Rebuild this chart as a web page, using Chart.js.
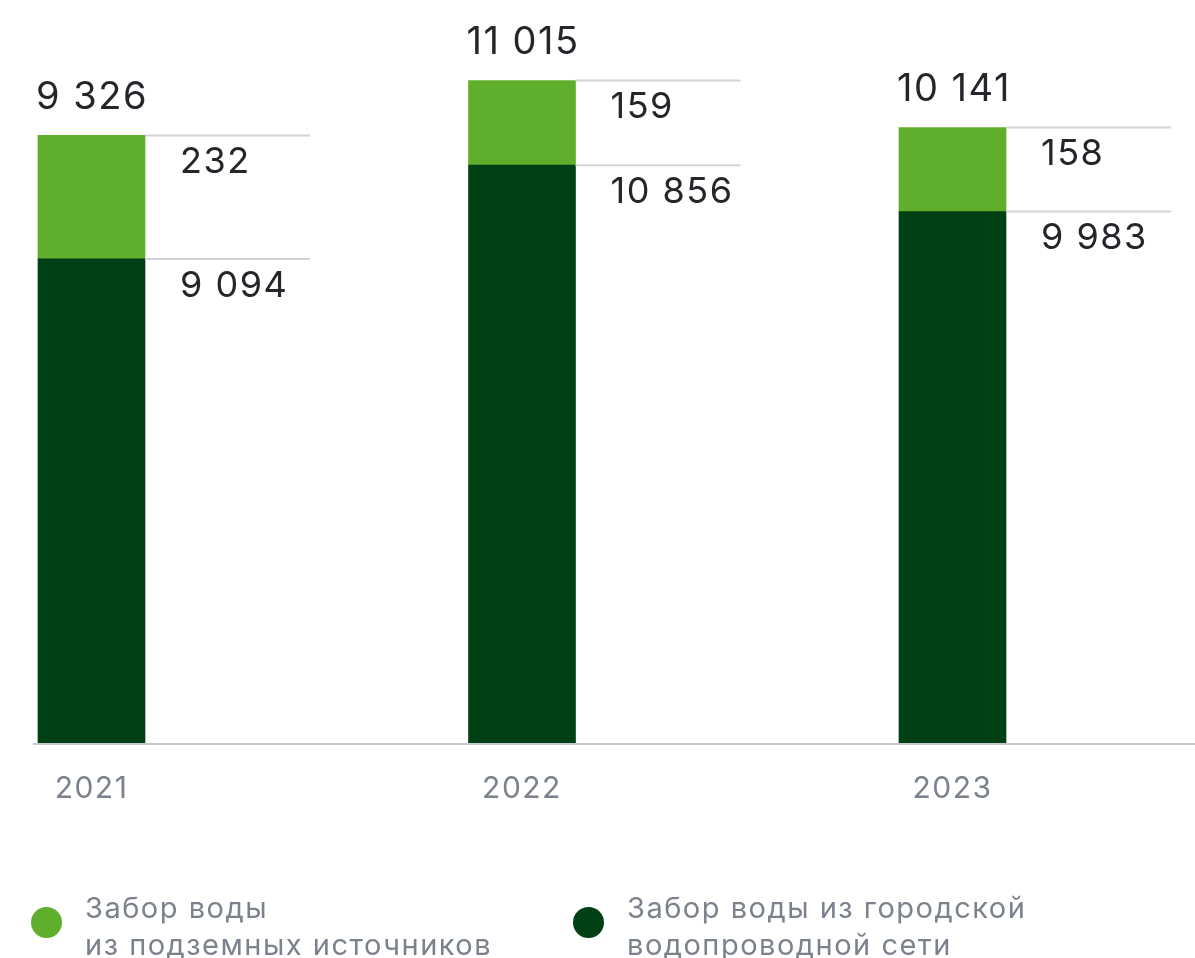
<!DOCTYPE html>
<html>
<head>
<meta charset="utf-8">
<script src="https://cdn.jsdelivr.net/npm/chart.js@4"></script>
<style>
  body { margin: 0; background: #fff; font-family: Inter, "Noto Sans", sans-serif; }
  #wrap { position: relative; width: 1195px; height: 958px; overflow: hidden; }
  .legend-item { position: absolute; top: 889px; color: #7b828d; font-size: 29px; line-height: 37px; letter-spacing: 1.5px; }
  .legend-item .dot { position: absolute; left: -54px; top: 18px; width: 31px; height: 31px; border-radius: 50%; }
</style>
</head>
<body>
<div id="wrap">
  <canvas id="water-chart"></canvas>
  <div class="legend-item" style="left:85px"><span class="dot" style="background:#5faf2d"></span>Забор воды<br>из подземных источников</div>
  <div class="legend-item" style="left:627px"><span class="dot" style="background:#013f15"></span>Забор воды из городской<br>водопроводной сети</div>
</div>
<script>
// Years and water intake values, thousand m3
const years = ['2021', '2022', '2023'];
const cityNetwork = [9094, 10856, 9983];
const groundSources = [232, 159, 158];

// the original picture draws the small ground-water segment 10x taller
const GROUND_SCALE = 10;

const darkGreen = '#013f15';
const lightGreen = '#5faf2d';

function fmt(v) {
    return String(v).replace(/\B(?=(\d{3})+(?!\d))/g, ' ');
}

// wider text, closer to the original typeface
const spacing = {
    id: 'spacing',
    beforeDraw(chart) {
        chart.ctx.letterSpacing = '1.5px';
    }
};

// Lines and value labels next to each bar
const barLabels = {
    id: 'barLabels',
    afterDatasetsDraw(chart) {
        const ctx = chart.ctx;
        const darkMeta = chart.getDatasetMeta(0);
        const lightMeta = chart.getDatasetMeta(1);
        ctx.save();
        ctx.letterSpacing = '1.5px';
        darkMeta.data.forEach(function(bar, i) {
            const top = lightMeta.data[i];
            const left = bar.x - bar.width / 2;
            const right = bar.x + bar.width / 2;

            ctx.strokeStyle = '#d0d4da';
            ctx.lineWidth = 2;
            [bar.y, top.y].forEach(function(y) {
                ctx.beginPath();
                ctx.moveTo(right, y);
                ctx.lineTo(right + 165, y);
                ctx.stroke();
            });

            ctx.fillStyle = '#25262b';
            ctx.textBaseline = 'middle';
            ctx.textAlign = 'left';
            ctx.font = '36px Inter';
            ctx.fillText(fmt(groundSources[i]), right + 35, top.y + 27);
            ctx.fillText(fmt(cityNetwork[i]), right + 35, bar.y + 27);

            ctx.font = '38px Inter';
            ctx.fillText(fmt(cityNetwork[i] + groundSources[i]), left - 2, top.y - 38);
        });

        // baseline
        const y0 = chart.scales.y.getPixelForValue(0);
        ctx.strokeStyle = '#c5c9d0';
        ctx.lineWidth = 2;
        ctx.beginPath();
        ctx.moveTo(33, y0 + 1);
        ctx.lineTo(chart.width, y0 + 1);
        ctx.stroke();
        ctx.restore();
    }
};

const ctx = document.getElementById('water-chart').getContext('2d');
const waterChart = new Chart(ctx, {
    type: 'bar',
    data: {
        labels: years,
        datasets: [{
            label: 'Забор воды из городской водопроводной сети',
            data: cityNetwork,
            backgroundColor: darkGreen,
            barThickness: 107,
            clip: false
        }, {
            label: 'Забор воды из подземных источников',
            data: groundSources.map(v => v * GROUND_SCALE),
            backgroundColor: lightGreen,
            barThickness: 107,
            clip: false
        }]
    },
    options: {
        responsive: true,
        maintainAspectRatio: false,
        animation: false,
        layout: {
            padding: { left: 91.5, right: 242.5, top: 51, bottom: 145 }
        },
        plugins: {
            legend: { display: false },
            tooltip: { enabled: false }
        },
        scales: {
            x: {
                stacked: true,
                offset: false,
                grid: { display: false, drawTicks: false },
                border: { display: false },
                ticks: {
                    color: '#7b828d',
                    font: { family: 'Inter', size: 30 },
                    padding: 28
                },
                afterFit: function(scale) { scale.height = 70; }
            },
            y: {
                stacked: true,
                display: false,
                min: 0,
                max: 13000
            }
        }
    },
    plugins: [spacing, barLabels]
});
</script>
</body>
</html>
